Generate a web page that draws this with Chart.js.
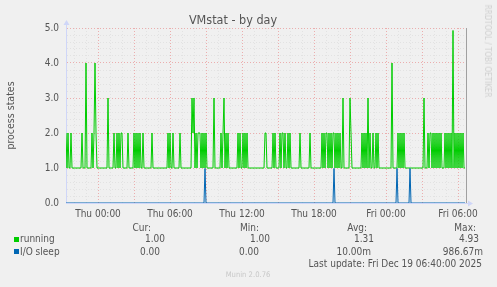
<!DOCTYPE html>
<html>
<head>
<meta charset="utf-8">
<title>VMstat - by day</title>
<script src="https://cdn.jsdelivr.net/npm/chart.js@4.4.1/dist/chart.umd.min.js"></script>
<style>
  html, body { margin: 0; padding: 0; background: #f0f0f0; }
  #wrap {
    position: relative; width: 497px; height: 287px; overflow: hidden;
    font-family: 'DejaVu Sans Condensed', 'DejaVu Sans', sans-serif; color: #555;
  }
  #wrap canvas { position: absolute; left: 0; top: 0; }
  .t { position: absolute; white-space: nowrap; font-size: 10px; line-height: 10px; }
  .sw { position: absolute; width: 5px; height: 5px; }
  #rrd {
    position: absolute; left: 487px; top: 51px; font-size: 8px; line-height: 8px; color: #cfcfcf;
    white-space: nowrap; transform: translate(-50%, -50%) rotate(90deg);
  }
  #ver { position: absolute; left: 248px; top: 271px; font-size: 7.6px; line-height: 8px; color: #c8c8c8;
    white-space: nowrap; transform: translateX(-50%); }
</style>
</head>
<body>
<div id="wrap">
  <canvas id="chart" width="497" height="287"></canvas>
  <div id="legend"></div>
  <div id="rrd">RRDTOOL / TOBI OETIKER</div>
  <div id="ver">Munin 2.0.76</div>
</div>
<script>
// x axis: one step = 5 minutes, step 0 = Wed 21:20
const tickSteps = [32, 104, 176, 248, 320, 392];
const tickLabels = ['Thu 00:00', 'Thu 06:00', 'Thu 12:00', 'Thu 18:00', 'Fri 00:00', 'Fri 06:00'];

const running = [
  2,1,2,1,1,2,1,1,1,1, 1,1,1,1,1,1,2,1,1,1,
  4,1,1,1,1,1,2,1,2,4, 2,1,1,1,1,1,1,1,1,1,
  1,1,3,1,1,1,1,1,2,1, 1,2,1,2,1,2,2,1,1,1,
  1,1,2,1,1,1,1,1,2,1, 2,1,2,1,2,1,1,2,1,1,
  1,1,1,1,1,1,2,1,1,1, 1,1,1,1,1,1,1,1,1,1,
  1,1,2,1,2,1,1,2,1,1, 1,1,1,1,2,1,1,1,1,1,
  1,1,1,1,1,1,3,2,3,1, 2,1,2,2,2,1,2,1,2,1,
  2,1,1,1,1,1,1,1,3,1, 1,1,1,1,1,2,1,2,3,1,
  2,1,2,1,1,1,1,1,1,1, 1,1,2,1,2,1,1,2,1,2,
  1,2,1,1,1,1,1,1,1,1, 1,1,1,1,1,1,1,1,1,2,
  2,1,1,1,1,1,1,2,1,2, 1,1,1,1,2,1,2,2,1,2,
  1,1,2,1,2,1,1,1,1,1, 1,1,1,1,2,1,1,1,1,1,
  1,1,1,1,2,1,1,1,1,1, 1,1,1,1,1,1,2,1,2,1,
  2,2,1,2,1,2,1,2,2,1, 2,1,2,1,2,1,1,3,1,1,
  1,1,1,1,3,2,1,1,1,1, 1,1,1,1,1,1,2,1,2,1,
  2,1,3,1,2,1,1,2,1,1, 2,1,2,1,1,1,1,1,1,1,
  1,1,1,1,1,1,4,1,1,1, 1,1,2,1,2,1,2,1,2,1,
  1,1,1,1,1,1,1,1,1,1, 1,1,1,1,1,1,1,1,3,1,
  1,1,2,1,2,2,1,2,1,2, 1,2,1,2,1,2,1,1,1,2,
  1,2,1,2,1,2,1,4.93,1,2, 1,2,1,2,1,2,1,2,1,1
];

const ioSleep = [
  0,0,0,0,0,0,0,0,0,0, 0,0,0,0,0,0,0,0,0,0,
  0,0,0,0,0,0,0,0,0,0, 0,0,0,0,0,0,0,0,0,0,
  0,0,0,0,0,0,0,0,0,0, 0,0,0,0,0,0,0,0,0,0,
  0,0,0,0,0,0,0,0,0,0, 0,0,0,0,0,0,0,0,0,0,
  0,0,0,0,0,0,0,0,0,0, 0,0,0,0,0,0,0,0,0,0,
  0,0,0,0,0,0,0,0,0,0, 0,0,0,0,0,0,0,0,0,0,
  0,0,0,0,0,0,0,0,0,0, 0,0,0,0,0,0,0,0,0,0.98667,
  0,0,0,0,0,0,0,0,0,0, 0,0,0,0,0,0,0,0,0,0,
  0,0,0,0,0,0,0,0,0,0, 0,0,0,0,0,0,0,0,0,0,
  0,0,0,0,0,0,0,0,0,0, 0,0,0,0,0,0,0,0,0,0,
  0,0,0,0,0,0,0,0,0,0, 0,0,0,0,0,0,0,0,0,0,
  0,0,0,0,0,0,0,0,0,0, 0,0,0,0,0,0,0,0,0,0,
  0,0,0,0,0,0,0,0,0,0, 0,0,0,0,0,0,0,0,0,0,
  0,0,0,0,0,0,0,0,0.98667,0, 0,0,0,0,0,0,0,0,0,0,
  0,0,0,0,0,0,0,0,0,0, 0,0,0,0,0,0,0,0,0,0,
  0,0,0,0,0,0,0,0,0,0, 0,0,0,0,0,0,0,0,0,0,
  0,0,0,0,0,0,0,0,0,0, 0,0.98667,0,0,0,0,0,0,0,0,
  0,0,0,0,0.98667,0,0,0,0,0, 0,0,0,0,0,0,0,0,0,0,
  0,0,0,0,0,0,0,0,0,0, 0,0,0,0,0,0,0,0,0,0,
  0,0,0,0,0,0,0,0,0,0, 0,0,0,0,0,0,0,0,0,0
];

// legend table
const seriesNames = ['running', 'I/O sleep'];
const statHeads = ['Cur:', 'Min:', 'Avg:', 'Max:'];
const curValues = ['1.00', '0.00'];
const minValues = ['1.00', '0.00'];
const avgValues = ['1.31', '10.00m'];
const maxValues = ['4.93', '986.67m'];
const lastUpdate = 'Last update: Fri Dec 19 06:40:00 2025';

const GREEN = '#00cc00';
const BLUE = '#0066b3';
const FONT = "'DejaVu Sans Condensed', 'DejaVu Sans', sans-serif";
const TEXT = '#555';
const MINOR = '#e2e2e2';
const MAJOR = '#ebaeae';

const toPoints = (arr) => arr.map((v, i) => ({ x: i, y: v }));

const buildLegend = () => {
    const box = document.getElementById('legend');
    const put = (text, top, left, right) => {
        const el = document.createElement('div');
        el.className = 't';
        el.textContent = text;
        el.style.top = top + 'px';
        if (left != null) el.style.left = left + 'px';
        if (right != null) el.style.right = (497 - right) + 'px';
        box.appendChild(el);
    };
    const headRight = [151, 259, 367, 476];
    statHeads.forEach((h, k) => put(h, 222.5, null, headRight[k]));

    const rowTop = [234.2, 246.5];
    const colRight = [[165, 270, 374, 479], [160, 259, 371, 483]];
    const colors = [GREEN, BLUE];
    seriesNames.forEach((name, r) => {
        const sw = document.createElement('div');
        sw.className = 'sw';
        sw.style.left = '14px';
        sw.style.top = (rowTop[r] + 2.5) + 'px';
        sw.style.background = colors[r];
        box.appendChild(sw);
        put(name, rowTop[r], 20, null);
        [curValues, minValues, avgValues, maxValues].forEach((vals, k) => put(vals[r], rowTop[r], null, colRight[r][k]));
    });
    put(lastUpdate, 258.8, null, 482);
};

// arrows on the axes and the right edge line
const framePlugin = {
    id: 'frame',
    afterDraw(chart) {
        const { ctx, chartArea: a } = chart;
        ctx.save();
        ctx.strokeStyle = '#a0a0a0';
        ctx.lineWidth = 1;
        ctx.beginPath();
        ctx.moveTo(a.right + 0.5, a.top);
        ctx.lineTo(a.right + 0.5, a.bottom);
        ctx.stroke();

        ctx.strokeStyle = '#cfd6f8';
        ctx.beginPath();
        ctx.moveTo(a.left + 0.5, a.top);
        ctx.lineTo(a.left + 0.5, a.top - 4);
        ctx.moveTo(a.right, a.bottom + 0.5);
        ctx.lineTo(a.right + 3, a.bottom + 0.5);
        ctx.stroke();

        ctx.fillStyle = '#cfd6f8';
        ctx.beginPath();
        ctx.moveTo(a.left - 2.5, a.top - 3);
        ctx.lineTo(a.left + 3.5, a.top - 3);
        ctx.lineTo(a.left + 0.5, a.top - 8);
        ctx.closePath();
        ctx.fill();
        ctx.beginPath();
        ctx.moveTo(a.right + 2, a.bottom - 2.5);
        ctx.lineTo(a.right + 2, a.bottom + 3.5);
        ctx.lineTo(a.right + 7, a.bottom + 0.5);
        ctx.closePath();
        ctx.fill();
        ctx.restore();
    }
};

const isWhole = (v) => Math.abs(v - Math.round(v)) < 1e-6;

const chart = new Chart(document.getElementById('chart'), {
    type: 'line',
    data: {
        datasets: [
            { label: 'running', data: toPoints(running), borderColor: GREEN, borderWidth: 1, order: 2 },
            { label: 'I/O sleep', data: toPoints(ioSleep), borderColor: BLUE, borderWidth: 1, order: 1 }
        ]
    },
    options: {
        responsive: false,
        animation: false,
        parsing: false,
        elements: { point: { radius: 0 }, line: { tension: 0, fill: false } },
        layout: { padding: { left: 0, right: 31, top: 0, bottom: 0 } },
        plugins: {
            legend: { display: false },
            tooltip: { enabled: false },
            title: {
                display: true,
                text: 'VMstat - by day',
                color: TEXT,
                font: { family: FONT, size: 12.5, weight: 'normal' },
                padding: { top: 13, bottom: 0 }
            }
        },
        scales: {
            x: {
                type: 'linear',
                min: 0,
                max: 400,
                afterBuildTicks: (scale) => {
                    const hours = [];
                    for (let s = 8; s <= 400; s += 12) hours.push({ value: s });
                    scale.ticks = hours;
                },
                afterFit: (scale) => { scale.height = 84; },
                grid: {
                    drawTicks: false,
                    lineWidth: 1,
                    color: (c) => (c.tick && (c.tick.value - tickSteps[0]) % 36 === 0) ? MAJOR : MINOR
                },
                border: { display: true, color: '#cfd6f8', width: 1, dash: [1, 2] },
                ticks: {
                    autoSkip: false,
                    maxRotation: 0,
                    padding: 5,
                    color: TEXT,
                    font: { family: FONT, size: 10 },
                    callback: (value) => {
                        const k = tickSteps.indexOf(value);
                        return k >= 0 ? tickLabels[k] : '';
                    }
                }
            },
            y: {
                min: 0,
                max: 5,
                afterFit: (scale) => { scale.width = 66; },
                grid: {
                    drawTicks: false,
                    lineWidth: 1,
                    color: (c) => {
                        const v = c.tick ? c.tick.value : 0;
                        if (v === 0) return 'rgba(0,0,0,0)';
                        return isWhole(v) ? MAJOR : MINOR;
                    }
                },
                border: { display: true, color: '#cfd6f8', width: 1, dash: [1, 2] },
                title: {
                    display: true,
                    text: 'process states',
                    color: TEXT,
                    font: { family: FONT, size: 10.5 },
                    padding: { top: 5, bottom: 0 }
                },
                ticks: {
                    stepSize: 0.2,
                    autoSkip: false,
                    padding: 7,
                    color: TEXT,
                    font: { family: FONT, size: 10 },
                    callback: (value) => isWhole(value) ? value.toFixed(1) : ''
                }
            }
        }
    },
    plugins: [framePlugin]
});

buildLegend();
</script>
</body>
</html>
